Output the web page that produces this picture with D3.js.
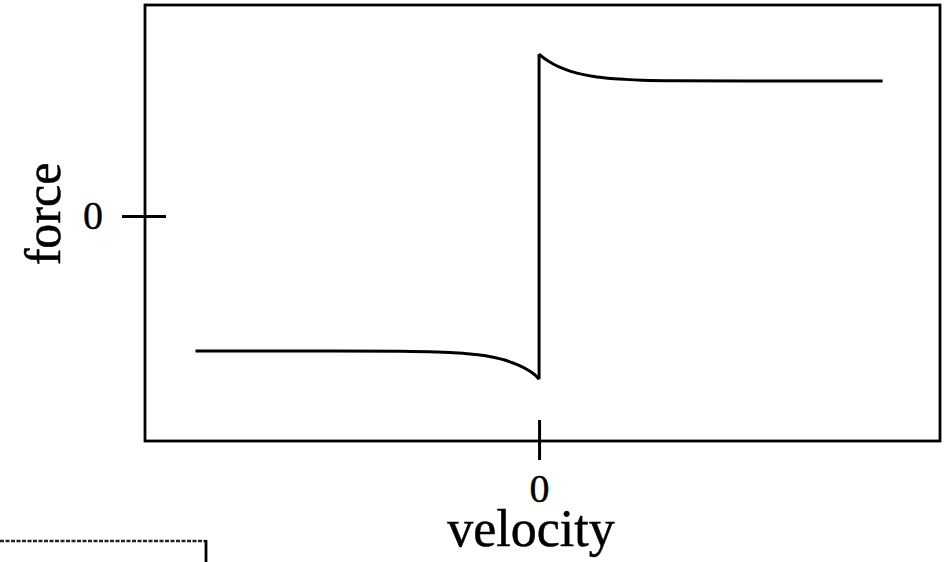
<!DOCTYPE html>
<html>
<head>
<meta charset="utf-8">
<script src="https://cdn.jsdelivr.net/npm/d3@7"></script>
<style>
  body { margin: 0; background: #fff; }
  svg { display: block; font-family: "Liberation Serif", "Times New Roman", serif; }
</style>
</head>
<body>
<div id="chart"></div>
<script>
// Stribeck-like friction curve (arbitrary units)
const upperVelocity = [0, 0.01, 0.02, 0.04, 0.06, 0.08, 0.1, 0.13, 0.16, 0.2, 0.25, 0.3, 0.4, 0.6, 0.8, 1.0];
const upperForce    = [1.2, 1.178, 1.159, 1.128, 1.103, 1.083, 1.066, 1.047, 1.033, 1.021, 1.012, 1.006, 1.002, 1.0, 1.0, 1.0];
const lowerVelocity = [-1.0, -0.8, -0.6, -0.4, -0.3, -0.25, -0.2, -0.16, -0.13, -0.1, -0.08, -0.06, -0.04, -0.02, -0.01, 0];
const lowerForce    = [-1.0, -1.0, -1.0, -1.003, -1.008, -1.013, -1.022, -1.034, -1.048, -1.067, -1.085, -1.105, -1.13, -1.162, -1.182, -1.21];
const xTicks = [0];
const yTicks = [0];

const width = 951, height = 562;
const box = { left: 145, top: 5, right: 940, bottom: 441 };

const svg = d3.select("#chart").append("svg")
    .attr("width", width)
    .attr("height", height);

const x = d3.scaleLinear().domain([-1.147, 1.167]).range([box.left, box.right]);
const y = d3.scaleLinear().domain([-1.667, 1.563]).range([box.bottom, box.top]);

const line = d3.line()
    .x(d => x(d[0]))
    .y(d => y(d[1]))
    .curve(d3.curveMonotoneX);

// monotoneX can't handle the vertical jump, so draw the pieces separately
const lowerPts = lowerVelocity.map((v, i) => [v, lowerForce[i]]);
const upperPts = upperVelocity.map((v, i) => [v, upperForce[i]]);

svg.append("path")
    .attr("d", line(lowerPts))
    .attr("fill", "none").attr("stroke", "#000").attr("stroke-width", 3);
svg.append("path")
    .attr("d", line(upperPts))
    .attr("fill", "none").attr("stroke", "#000").attr("stroke-width", 3);
svg.append("line")
    .attr("x1", x(0)).attr("x2", x(0))
    .attr("y1", y(lowerForce[lowerForce.length - 1]))
    .attr("y2", y(upperForce[0]))
    .attr("stroke", "#000").attr("stroke-width", 3);

// frame
svg.append("rect")
    .attr("x", box.left).attr("y", box.top)
    .attr("width", box.right - box.left)
    .attr("height", box.bottom - box.top)
    .attr("fill", "none").attr("stroke", "#000").attr("stroke-width", 2.8);

// axes (ticks cross the frame)
const xAxis = svg.append("g")
    .attr("transform", "translate(0," + box.bottom + ")")
    .call(d3.axisBottom(x).tickValues(xTicks).tickSize(19).tickPadding(14).tickFormat(d3.format("d")));
xAxis.select(".domain").remove();
xAxis.selectAll(".tick line").attr("y1", -21).attr("stroke-width", 3);
xAxis.selectAll(".tick text")
    .style("font-size", "40px").style("font-family", "Liberation Serif")
    .attr("fill", "#000").attr("stroke", "#000").attr("stroke-width", 0.4);

const yAxis = svg.append("g")
    .attr("transform", "translate(" + box.left + ",0)")
    .call(d3.axisLeft(y).tickValues(yTicks).tickSize(23).tickPadding(19).tickFormat(d3.format("d")));
yAxis.select(".domain").remove();
yAxis.selectAll(".tick line").attr("x1", 21).attr("stroke-width", 3);
yAxis.selectAll(".tick text")
    .style("font-size", "40px").style("font-family", "Liberation Serif")
    .attr("fill", "#000").attr("stroke", "#000").attr("stroke-width", 0.4);

// axis titles
svg.append("text")
    .attr("x", 531).attr("y", 546)
    .attr("text-anchor", "middle")
    .attr("stroke", "#000").attr("stroke-width", 0.5)
    .style("font-size", "52px")
    .text("velocity");

svg.append("text")
    .attr("transform", "translate(60,214) rotate(-90)")
    .attr("text-anchor", "middle")
    .attr("stroke", "#000").attr("stroke-width", 0.5)
    .style("font-size", "50px")
    .text("force");

// corner of a neighbouring panel
svg.append("line")
    .attr("x1", 0).attr("x2", 206).attr("y1", 541).attr("y2", 541)
    .attr("stroke", "#222").attr("stroke-width", 2.4).attr("stroke-dasharray", "4,1.5");
svg.append("line")
    .attr("x1", 206).attr("x2", 206).attr("y1", 540).attr("y2", 562)
    .attr("stroke", "#000").attr("stroke-width", 2.8);
</script>
</body>
</html>
